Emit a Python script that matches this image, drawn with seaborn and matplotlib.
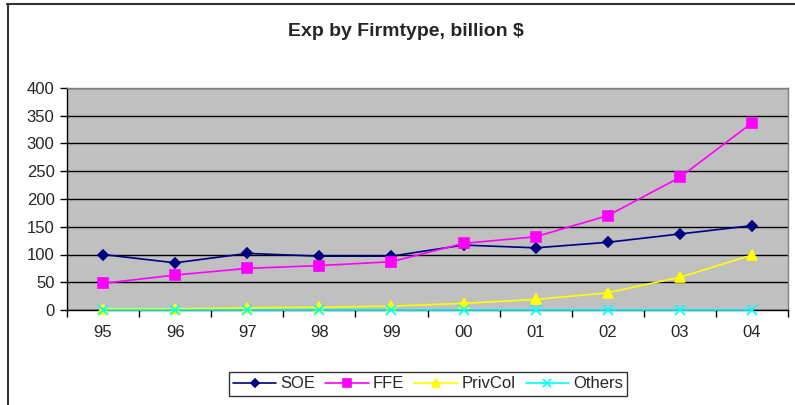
import numpy as np
import pandas as pd
import matplotlib
matplotlib.use("Agg")
import matplotlib.pyplot as plt
from matplotlib.lines import Line2D
import seaborn as sns

years = ['95', '96', '97', '98', '99', '00', '01', '02', '03', '04']
soe = [100, 85, 102, 97, 97, 117, 112, 122, 137, 152]
ffe = [48, 63, 75, 80, 87, 120, 132, 170, 239, 337]
privcol = [2, 2, 4, 5, 7, 12, 19, 31, 59, 99]
others = [0.5, 0.5, 0.5, 0.5, 0.5, 0.5, 0.5, 0.5, 0.5, 0.5]

series = {'SOE': soe, 'FFE': ffe, 'PrivCol': privcol, 'Others': others}
colors = {'SOE': '#000080', 'FFE': '#FF00FF', 'PrivCol': '#FFFF00', 'Others': '#00FFFF'}
markers = {'SOE': 'D', 'FFE': 's', 'PrivCol': '^', 'Others': 'x'}
msizes = {'SOE': 5, 'FFE': 6.5, 'PrivCol': 6.5, 'Others': 6.5}

sns.set_style('white')
plt.rcParams['font.family'] = ['Liberation Sans', 'DejaVu Sans']

fig = plt.figure(figsize=(7.95, 4.05), dpi=100)
ax = fig.add_axes([67 / 795, 1 - 310 / 405, (788 - 67) / 795, (310 - 88) / 405])
ax.set_facecolor('#C0C0C0')

for name, vals in series.items():
    d = pd.DataFrame({'pos': range(len(years)), 'value': vals})
    sns.lineplot(data=d, x='pos', y='value', color=colors[name], marker=markers[name],
                 markersize=msizes[name], markeredgecolor=colors[name], markerfacecolor=colors[name],
                 markeredgewidth=1.2, linewidth=1.2, label=name, ax=ax, zorder=3, clip_on=False)

ax.set_xlim(-0.5, 9.5)
ax.set_ylim(0, 400)
ax.set_yticks(np.arange(0, 401, 50))
ax.set_xticks(range(len(years)))
ax.set_xticklabels(years)
ax.set_xticks(np.arange(-0.5, 10, 1), minor=True)
ax.tick_params(axis='x', which='major', length=0, pad=11, labelsize=12)
ax.tick_params(axis='x', which='minor', length=5, width=1, color='black', direction='out', bottom=True)
ax.tick_params(axis='y', length=5, width=1, color='black', direction='out', pad=4, labelsize=12, left=True)
ax.yaxis.grid(True, color='black', linewidth=1)
ax.xaxis.grid(False)
ax.set_axisbelow(True)
ax.set_xlabel('')
ax.set_ylabel('')

for side in ['left', 'bottom']:
    ax.spines[side].set_color('black')
    ax.spines[side].set_linewidth(1)
for side in ['top', 'right']:
    ax.spines[side].set_color('#808080')
    ax.spines[side].set_linewidth(1)

handles, labels = ax.get_legend_handles_labels()
leg = ax.legend(handles, labels, ncol=4, loc='center', bbox_to_anchor=(428 / 795, 1 - 384 / 405),
                bbox_transform=fig.transFigure, frameon=True, fancybox=False, fontsize=12,
                handlelength=2.6, handletextpad=0.25, columnspacing=0.6, borderpad=0.25,
                markerscale=0.85)
leg.get_frame().set_edgecolor('black')
leg.get_frame().set_linewidth(1)

fig.text(406 / 795, 1 - 32 / 405, 'Exp by Firmtype, billion $', ha='center', va='center',
         fontsize=14, fontweight='bold')

fig.add_artist(Line2D([7.5 / 795, 7.5 / 795], [0, 1 - 4 / 405], transform=fig.transFigure,
                      color='#333333', linewidth=1.5))
fig.add_artist(Line2D([7 / 795, 1], [1 - 4 / 405, 1 - 4 / 405], transform=fig.transFigure,
                      color='#333333', linewidth=1.5))

fig.savefig('out.png', dpi=100, facecolor='white')
